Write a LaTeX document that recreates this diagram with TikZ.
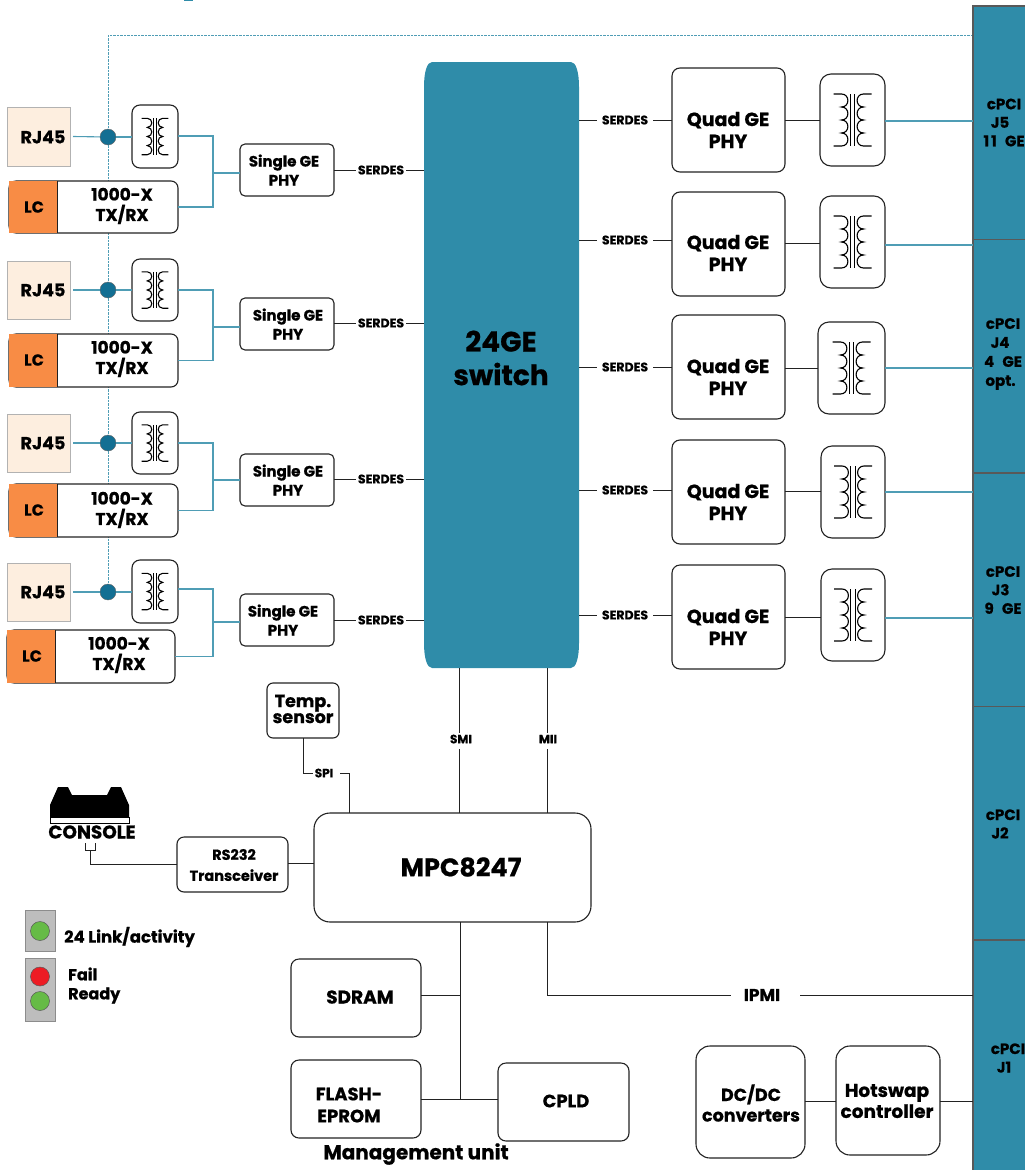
\documentclass[tikz,border=0pt]{standalone}
\usepackage{fontspec}
\setmainfont{Poppins}[BoldFeatures={FakeBold=0.7}]
\usetikzlibrary{backgrounds}
\definecolor{tealfill}{HTML}{2F8CA9}
\definecolor{tealline}{HTML}{4F9DB5}
\definecolor{dotblue}{HTML}{136F93}
\definecolor{peach}{HTML}{FDEEDF}
\definecolor{orangefill}{HTML}{F88C45}
\definecolor{ledgrey}{HTML}{BDBDBD}
\definecolor{ledgreen}{HTML}{66BB46}
\definecolor{ledred}{HTML}{ED1C24}
\definecolor{ink}{HTML}{222222}
\newcommand{\sz}[2]{\fontsize{#1}{#2}\selectfont}
\newcommand{\bx}[7][]{%
 \node[boxb,#1,minimum width=#4-#2,minimum height=#5-#3] (#6) at ({(#2+#4)/2},{(#3+#5)/2}) {#7};}
\tikzset{
 boxb/.style={draw=ink,line width=1.1pt,fill=white,rounded corners=5,inner sep=0,outer sep=0,anchor=center},
 txt/.style={font=\bfseries\sz{#1}{\the\dimexpr#1pt*6/5\relax},align=center,inner sep=0,text=black},
 txt/.default=14,
 ln/.style={draw=ink,line width=1pt},
 tl/.style={draw=tealline,line width=1.1pt},
 dsh/.style={draw=tealline,line width=1pt,dash pattern=on 2.5pt off 1pt},
 slot/.style={draw=black!65,line width=1.5pt,fill=tealfill,inner sep=0,outer sep=0},
 coilsym/.pic={
  \draw[line width=1.1pt,black] (-19,-26) -- (-11,-26)
    .. controls (-2.5,-26) and (-2.5,-13) .. (-11,-13)
    .. controls (-2.5,-13) and (-2.5,0) .. (-11,0)
    .. controls (-2.5,0) and (-2.5,13) .. (-11,13)
    .. controls (-2.5,13) and (-2.5,26) .. (-11,26) -- (-19,26);
  \draw[line width=1.1pt,black] (19,-26) -- (11,-26)
    .. controls (2.5,-26) and (2.5,-13) .. (11,-13)
    .. controls (2.5,-13) and (2.5,0) .. (11,0)
    .. controls (2.5,0) and (2.5,13) .. (11,13)
    .. controls (2.5,13) and (2.5,26) .. (11,26) -- (19,26);
  \draw[line width=1pt,black] (-2.4,-26) -- (-2.4,26) (2.4,-26) -- (2.4,26);
 }
}
\begin{document}
\begin{tikzpicture}[x=1pt,y=-1pt]
\useasboundingbox (0,0) rectangle (1025,1170);
\fill[tealfill] (183.5,0) rectangle (193,1);

% backplane connectors
\foreach \n/\a/\b in {j5/6/239.5,j4/239.5/473,j3/473/706.5,j2/706.5/940,j1/940/1180}{
  \node[slot,minimum width=67,minimum height=\b-\a] (\n) at (1006.5,{(\a+\b)/2}) {};
}
\node[font=\bfseries\sz{15}{18.5},align=center,inner sep=0] (j5t) at (1004,122.5) {cPCI\\\hspace*{-8pt}J5\\1\hspace{2pt}1 \hspace{5pt}GE};
\node[font=\bfseries\sz{15}{19},align=center,inner sep=0] (j4t) at (1003,354) {cPCI\\\hspace*{-6pt}J4\\4 \hspace{5pt}GE\\\hspace*{-5pt}opt.};
\node[font=\bfseries\sz{15}{18.5},align=center,inner sep=0] (j3t) at (1003,590) {cPCI\\\hspace*{-5pt}J3\\9 \hspace{5pt}GE};
\node[font=\bfseries\sz{15}{18.5},align=center,inner sep=0] (j2t) at (1003,824) {cPCI\\\hspace*{-6pt}J2};
\node[font=\bfseries\sz{15}{18.5},align=center,inner sep=0] (j1t) at (1008,1058) {cPCI\\\hspace*{-8pt}J1};

% switch
\node[inner sep=0,minimum width=155,minimum height=606] (sw) at (501.5,365) {};
\fill[tealfill] (424,87) .. controls (424,72) and (427,62) .. (432,62) -- (571,62)
  .. controls (576,62) and (579,72) .. (579,87) -- (579,643)
  .. controls (579,658) and (576,668) .. (571,668) -- (432,668)
  .. controls (427,668) and (424,658) .. (424,643) -- cycle;
\node[txt=28] (swt) at (501,358) {24GE\\switch};

% left port groups
\foreach \r/\rt/\rb/\dy/\xt/\xb/\lcl/\lct/\lcb/\orr/\lcr/\st/\sb/\sty/\sry/\oy/\stx/\lx/\ly/\lcx/\ky/\rx in {
 1/107/166/137/105/168/9/181/233/57/178/144/196/173/170/136/284/122/206/34/207/43,
 2/261/319/290/259/321/9/334/387/57/178/298/350/327/323/290/288/122/359/34/360/43,
 3/414/472/443/412/474/9/484/537/57/178/454/506/480/479/443/288/122/510/34/510/43,
 4/563/621/592/560/623/7/630/683/55/175/594/646/622/620/589/283/119/655/32/656/43}{
  \node[inner sep=0,outer sep=0,fill=peach,draw=black!30,line width=.5pt,minimum width=63,minimum height=\rb-\rt,anchor=center] (rj\r) at (38.5,{(\rt+\rb)/2}) {};
  \node[txt=17.5] (rjt\r) at (\rx,\dy) {RJ45};
  \node[circle,fill=dotblue,draw=black!60,line width=.4pt,minimum size=16,inner sep=0,outer sep=0] (dot\r) at (108,\dy) {};
  \bx[rounded corners=8]{132}{\xt}{178}{\xb}{xf\r}{}
  \pic[scale=0.7] at (xf\r.center) {coilsym};
  \bx[rounded corners=7]{\lcl}{\lct}{\lcr}{\lcb}{lcb\r}{}
  \node[inner sep=0,outer sep=0,fill=orangefill,minimum width=\orr-\lcl,minimum height=\lcb-\lct] (lco\r) at ({(\lcl+\orr)/2},{(\lct+\lcb)/2}) {};
  \draw[ink,line width=.9pt] (lco\r.north east) -- (lco\r.south east);
  \node[txt=16] (lct\r) at (\lcx,\ky) {LC};
  \node[txt=17] (lbt\r) at (\lx,\ly) {1000-X\\TX/RX};
  \bx{240}{\st}{334}{\sb}{sg\r}{}
  \node[font=\bfseries\sz{15}{19},align=center,inner sep=0] (sgt\r) at (\stx,{(\st+\sb)/2}) {Single GE\\PHY};
  \node[txt=12.5,inner sep=2pt] (sd\r) at (381,\sry) {SERDES};
  \draw[tl] (rj\r.east) ++(3,0) -- (dot\r);
  \draw[tl] (dot\r) -- (xf\r.west |- dot\r);
  \draw[tl] (xf\r.east |- 0,\oy) -- (213,\oy) |- (lcb\r.east);
  \draw[tl] (213,\sty) -- (sg\r.west |- 0,\sty);
  \draw[ln] (sg\r.east |- sd\r) -- (sd\r);
  \draw[ln] (sd\r) -- (sw.west |- sd\r);
}

% dashed management bus (behind everything)
\coordinate (dashtop) at (108,35);
\begin{scope}[on background layer]
 \draw[dsh] (j5.west |- dashtop) -- (dashtop) -- (dot1) -- (dot2) -- (dot3) -- (dot4);
\end{scope}

% right port groups
\foreach \r/\qt/\qy/\xl/\xt/\xb/\ly/\oy/\sy in {
 1/68/130/820/74/166/120/121/120,
 2/192/253/820/196/288/243/245/240,
 3/315/377/818/322/414/368/368/367,
 4/440/502/821/446/538/491/492/490,
 5/565/627/821/569/661/617/618/615}{
  \bx[rounded corners=8]{672}{\qt}{785}{\qt+104}{qd\r}{}
  \node[font=\bfseries\sz{19}{22},align=center,inner sep=0] (qdt\r) at (728,\qy) {Quad GE\\PHY};
  \bx[rounded corners=11]{\xl}{\xt}{885}{\xb}{xr\r}{}
  \pic at (xr\r.center) {coilsym};
  \node[txt=12.5,inner sep=5pt] (sr\r) at (625,\sy) {SERDES};
  \draw[ln] (sw.east |- sr\r) -- (sr\r);
  \draw[ln] (sr\r) -- (qd\r.west |- sr\r);
  \draw[ln] (qd\r.east |- 0,\ly) -- (xr\r.west |- 0,\ly);
  \draw[tl] (xr\r.east |- 0,\oy) -- (973,\oy);
}

% management unit
\bx[rounded corners=16]{314}{813}{591}{922}{mpc}{}
\node[txt=25.5] (mpct) at (461,867) {MPC8247};
\node[txt=12] (smi) at (461,739) {SMI};
\node[txt=12] (mii) at (548,739) {MII};
\draw[ln] (459,668) -- (459,733);
\draw[ln] (459,749) -- (mpc.north -| 459,0);
\draw[ln] (547,668) -- (547,733);
\draw[ln] (547,749) -- (mpc.north -| 547,0);

\bx[rounded corners=6]{267}{683}{339}{738}{tmp}{}
\node[font=\bfseries\sz{17.5}{16},align=center,inner sep=0] (tmpt) at (303,709) {Temp.\\sensor};
\node[txt=12,inner sep=2pt] (spi) at (324,773) {SPI};
\draw[ln] (tmp.south -| 303,0) |- (spi.west);
\draw[ln] (spi.east)++(5,0) -- (349,773) -- (mpc.north -| 349,0);

% console
\fill[black] (50,817) -- (50,805) -- (58,787) -- (68,787) -- (72,795) -- (107,795) -- (111,787) -- (121,787) -- (129,805) -- (129,817) -- cycle;
\draw[black,line width=.8pt,fill=white] (50,817) rectangle (129,823);
\node[txt=18.5] (cons) at (92,832) {CONSOLE};
\coordinate (consa) at (90,850);
\draw[ln,line width=.8pt] (85,843) -- (85,850) -- (95,850) -- (95,843);
\bx[rounded corners=7]{177}{837}{288}{892}{rs}{}
\node[font=\bfseries\sz{14.5}{21},align=center,inner sep=0] (rst) at (234,865) {RS232\\Transceiver};
\draw[ln] (consa) |- (rs.west);
\draw[ln] (rs.east |- 0,863) -- (mpc.west |- 0,863);

% LEDs
\node[inner sep=0,fill=ledgrey,draw=black!45,line width=.5pt,minimum width=30,minimum height=41] (ledA) at (40,931) {};
\node[inner sep=0,fill=ledgrey,draw=black!45,line width=.5pt,minimum width=30,minimum height=63] (ledB) at (40,989.5) {};
\node[circle,inner sep=0,minimum size=19,fill=ledgreen,draw=black!65,line width=.5pt] (led1) at (40,931) {};
\node[circle,inner sep=0,minimum size=19,fill=ledred,draw=black!65,line width=.5pt] (led2) at (40,976.5) {};
\node[circle,inner sep=0,minimum size=19,fill=ledgreen,draw=black!65,line width=.5pt] (led3) at (40,1001) {};
\node[txt=16.5,anchor=west] (ledt1) at (64,937) {24 Link/activity};
\node[font=\bfseries\sz{16}{19},align=left,inner sep=0,anchor=west] (ledt2) at (68,985.5) {Fail\\Ready};

% memory
\bx[rounded corners=8]{291}{959}{421}{1037}{sdr}{}
\node[txt=18.5] (sdrt) at (360,997) {SDRAM};
\bx[rounded corners=8]{291}{1060}{421}{1138}{fla}{}
\node[font=\bfseries\sz{18}{22},align=center,inner sep=0] (flat) at (349,1105) {FLASH-\\EPROM};
\bx[rounded corners=8]{498}{1063}{629}{1141}{cpl}{}
\node[txt=18] (cplt) at (566,1101) {CPLD};
\node[txt=20] (mgmt) at (416,1154) {Management unit};
\coordinate (busj) at (460,1099);
\draw[ln] (mpc.south -| busj) -- (busj);
\draw[ln] (sdr.east |- 0,995) -- (460,995);
\draw[ln] (fla.east |- busj) -- (cpl.west |- busj);

% IPMI
\node[txt=17,inner sep=13pt] (ipmi) at (762,995) {IPMI};
\draw[ln] (mpc.south -| 547,0) |- (ipmi.west);
\draw[ln] (ipmi.east)++(7,0) -- (j1.west |- ipmi);

% power
\bx[rounded corners=14]{696}{1046}{805}{1158}{dcdc}{}
\node[font=\bfseries\sz{17.5}{20.5},align=center,inner sep=0] (dct) at (751,1103) {DC/DC\\converters};
\bx[rounded corners=14]{836}{1046}{940}{1155}{hot}{}
\node[font=\bfseries\sz{18.5}{21},align=center,inner sep=0] (hott) at (887,1101) {Hotswap\\controller};
\draw[ln] (dcdc.east |- 0,1101) -- (hot.west |- 0,1101);
\draw[ln] (hot.east |- 0,1101) -- (j1.west |- 0,1101);
\end{tikzpicture}
\end{document}
